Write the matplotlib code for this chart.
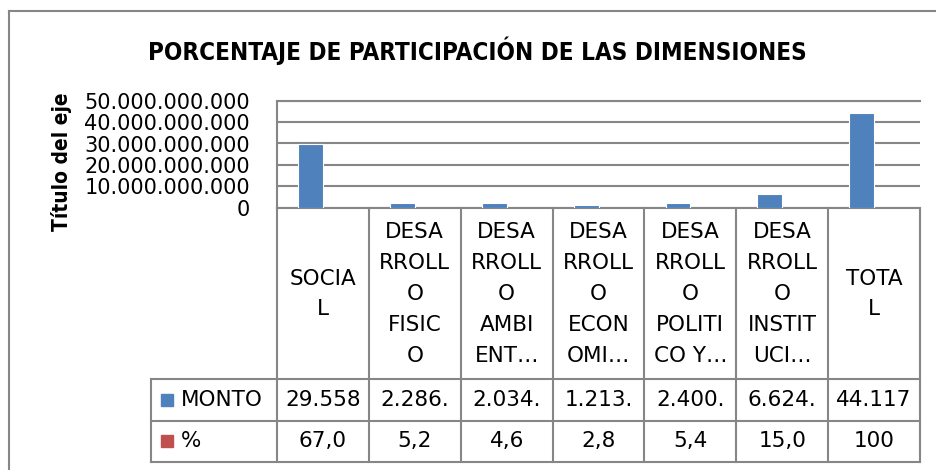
import numpy as np
import matplotlib.pyplot as plt
from matplotlib import transforms
from matplotlib.lines import Line2D
from matplotlib.patches import Rectangle

# datos
categorias = ["SOCIA\nL",
              "DESA\nRROLL\nO\nFISIC\nO",
              "DESA\nRROLL\nO\nAMBI\nENT…",
              "DESA\nRROLL\nO\nECON\nOMI…",
              "DESA\nRROLL\nO\nPOLITI\nCO Y…",
              "DESA\nRROLL\nO\nINSTIT\nUCI…",
              "TOTA\nL"]
monto_millones = [29558, 2286, 2034, 1213, 2400, 6624, 44117]
porcentaje = [67.0, 5.2, 4.6, 2.8, 5.4, 15.0, 100]
series = ["MONTO", "%"]
colores = ["#4F81BD", "#C0504D"]
yticks = np.arange(0, 50e9 + 1, 10e9)

W, H = 936, 470
gris = "#868686"


def fx(px):
    return px / W


def fy(py):
    return 1 - py / H


fig = plt.figure(figsize=(W / 100, H / 100), dpi=100)
ax = fig.add_axes([fx(277), fy(207.7), fx(920) - fx(277), fy(100.7) - fy(207.7)])

x = np.arange(len(categorias))
w = 0.27
monto = np.array(monto_millones) * 1e6
ax.bar(x - w / 2, monto, w, color=colores[0], edgecolor="white", linewidth=0.8, zorder=3)
ax.bar(x + w / 2, porcentaje, w, color=colores[1], zorder=3)
ax.set_xlim(-0.5, len(categorias) - 0.5)
ax.set_ylim(0, 5e10)
ax.set_yticks(yticks)
ax.set_yticklabels([f"{v:,.0f}".replace(",", ".") for v in yticks], fontsize=15)
ax.tick_params(axis="y", length=0, pad=19.4)
ax.set_xticks([])
ax.grid(axis="y", color=gris, linewidth=1.5)
ax.set_axisbelow(True)
ax.spines["right"].set_visible(False)
for s in ["left", "top", "bottom"]:
    ax.spines[s].set_color(gris)
    ax.spines[s].set_linewidth(1.5)

# tabla de datos
tr = transforms.blended_transform_factory(ax.transData, fig.transFigure)
for i in range(len(categorias) + 1):
    fig.add_artist(Line2D([i - 0.5, i - 0.5], [fy(207.7), fy(462)], transform=tr, color=gris, lw=1.5))
for yy in [379, 421, 462]:
    fig.add_artist(Line2D([fx(151), fx(920)], [fy(yy), fy(yy)], color=gris, lw=1.5))
fig.add_artist(Line2D([fx(151), fx(151)], [fy(379), fy(462)], color=gris, lw=1.5))

for i, lab in enumerate(categorias):
    ax.text(i, fy(294), lab, transform=tr, ha="center", va="center", fontsize=15.5, linespacing=1.68)
    txt_monto = f"{monto[i]:,.0f}".replace(",", ".")[:6]
    ax.text(i, fy(400), txt_monto, transform=tr, ha="center", va="center", fontsize=15.5)
    p = porcentaje[i]
    txt_p = f"{p:.1f}".replace(".", ",") if p < 100 else f"{p:.0f}"
    ax.text(i, fy(441), txt_p, transform=tr, ha="center", va="center", fontsize=15.5)

for nombre, col, yc in zip(series, colores, [400, 441]):
    fig.add_artist(Rectangle((fx(161), fy(yc + 6)), fx(12), 12 / H, color=col))
    fig.text(fx(181), fy(yc), nombre, ha="left", va="center", fontsize=15.5)

fig.text(fx(477), fy(51), "PORCENTAJE DE PARTICIPACIÓN DE LAS DIMENSIONES",
         ha="center", va="center", fontsize=17.4, fontweight="bold",
         family="DejaVu Sans", fontstretch="condensed")
fig.text(fx(61), fy(162), "Título del eje", rotation=90, ha="center", va="center",
         fontsize=15, fontweight="bold", family="DejaVu Sans", fontstretch="condensed")

# borde del grafico
fig.add_artist(Line2D([fx(8.5), fx(8.5)], [0, fy(10.5)], color=gris, lw=1.5))
fig.add_artist(Line2D([fx(8.5), 1], [fy(10.5), fy(10.5)], color=gris, lw=1.5))

fig.savefig("out.png", dpi=100)
